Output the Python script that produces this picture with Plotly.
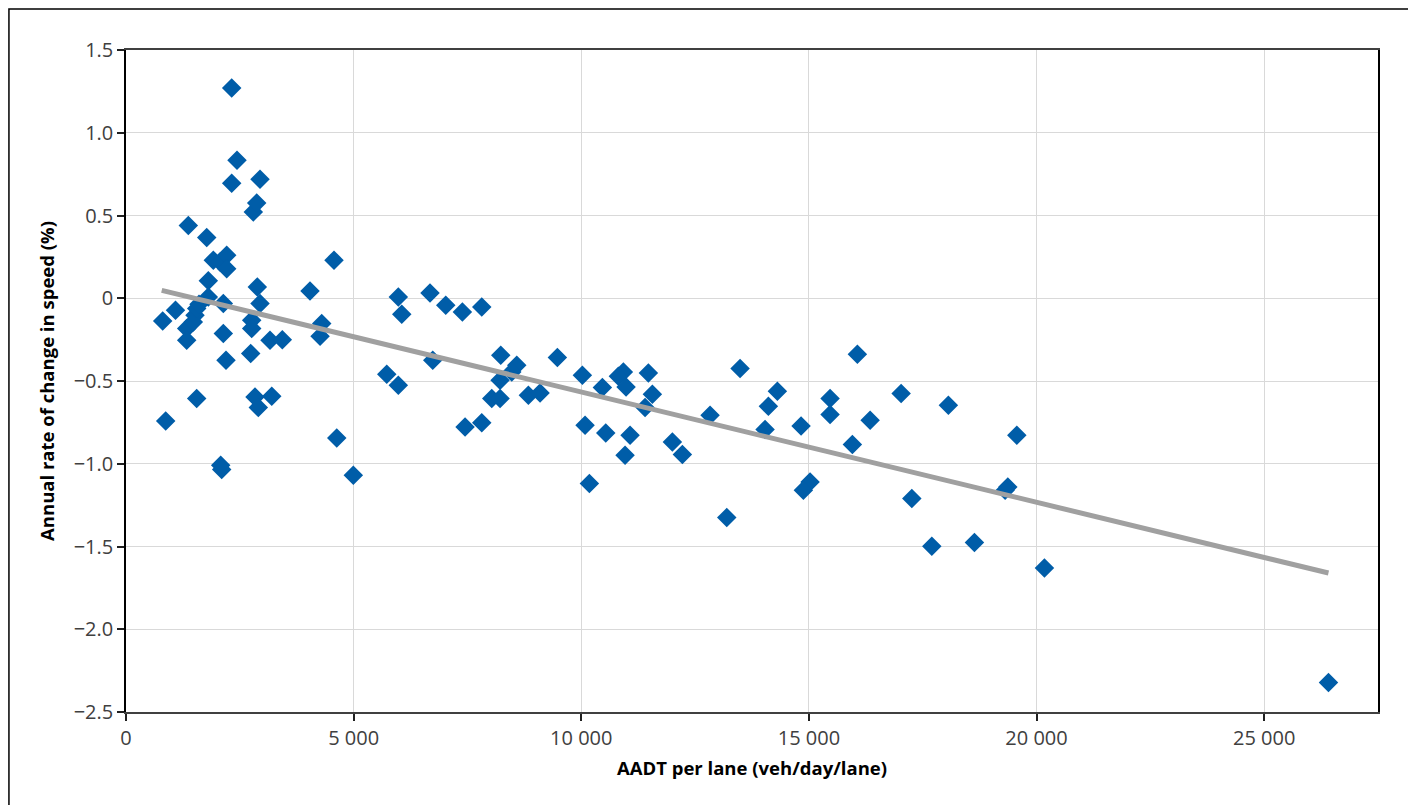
import plotly.graph_objects as go

# AADT per lane (veh/day/lane)
aadt = [806, 872, 1087, 1333, 1333, 1369, 1478, 1516, 1553, 1604, 1553, 1773, 1808, 1808,
        1918, 2065, 2212, 2212, 2137, 2137, 2197, 2080, 2102, 2322, 2322, 2438, 2797, 2871,
        2761, 2761, 2739, 2884, 2944, 2944, 2834, 2906, 3201, 3163, 3434, 4042, 4299, 4262,
        4569, 4629, 4993,
        5982, 6057, 6678, 7023, 7388, 7814, 5727, 5982, 6738, 8231, 8583, 8473, 8216, 8034,
        8216, 8838, 9095, 9475, 7447, 7814, 10024, 10463, 10925, 10815, 10984, 11474, 11562,
        11401, 10083, 10538, 11072, 10962, 12001, 12221, 10178,
        13488, 12829, 14308, 14110, 14037, 14828, 13196, 15026, 14879, 16065, 15465, 15465,
        16344, 15955, 17025, 18064, 19567, 17260, 19369, 19310, 17699, 18636, 20173, 26412]

# Annual rate of change in speed (%)
rate = [-0.137, -0.741, -0.073, -0.183, -0.254, 0.439, -0.143, -0.103, -0.062, -0.036, -0.606,
        0.367, 0.105, 0.008, 0.230, 0.219, 0.260, 0.179, -0.032, -0.213, -0.375, -1.009, -1.035,
        1.271, 0.695, 0.834, 0.521, 0.576, -0.133, -0.183, -0.334, 0.068, -0.032, 0.719,
        -0.596, -0.660, -0.592, -0.254, -0.250, 0.044, -0.153, -0.230, 0.230, -0.844, -1.070,
        0.008, -0.097, 0.032, -0.042, -0.083, -0.053, -0.459, -0.526, -0.375, -0.344, -0.405,
        -0.445, -0.495, -0.606, -0.606, -0.586, -0.572, -0.358, -0.778, -0.753, -0.465, -0.540,
        -0.445, -0.471, -0.536, -0.451, -0.580, -0.660, -0.767, -0.814, -0.828, -0.949, -0.868,
        -0.944, -1.120,
        -0.425, -0.707, -0.562, -0.653, -0.793, -0.772, -1.325, -1.110, -1.160, -0.338, -0.606,
        -0.703, -0.737, -0.884, -0.576, -0.647, -0.828, -1.210, -1.140, -1.160, -1.498, -1.476,
        -1.630, -2.322]

# Linear trend (fitted) coefficients
trend_intercept = 0.1003
trend_slope = -6.665e-5

x_ticks = [0, 5000, 10000, 15000, 20000, 25000]
y_ticks = [1.5, 1.0, 0.5, 0, -0.5, -1.0, -1.5, -2.0, -2.5]
y_tick_text = ["1.5", "1.0", "0.5", "0", "\u22120.5", "\u22121.0", "\u22121.5", "\u22122.0", "\u22122.5"]
x_tick_text = ["0", "5 000", "10 000", "15 000", "20 000", "25 000"]

x_min, x_max = 785, max(aadt)
trend_x = [x_min, x_max]
trend_y = [trend_intercept + trend_slope * v for v in trend_x]

fig = go.Figure()
fig.add_trace(go.Scatter(
    x=aadt, y=rate, mode="markers",
    marker=dict(symbol="diamond", size=15, color="#005DA8", line=dict(width=0)),
    showlegend=False, hoverinfo="x+y"))
fig.add_trace(go.Scatter(
    x=trend_x, y=trend_y, mode="lines",
    line=dict(color="#A0A0A0", width=5),
    showlegend=False, hoverinfo="skip"))

axis_font = dict(family="Open Sans, sans-serif", size=20, color="#404040")
title_font = dict(family="Open Sans, sans-serif", size=18.5, color="#000000")

fig.update_layout(
    width=1416, height=805,
    margin=dict(l=118, r=46, t=42, b=101),
    paper_bgcolor="white", plot_bgcolor="white",
    font=dict(family="Open Sans, sans-serif"),
    xaxis=dict(
        range=[0, 27500], tickvals=x_ticks, ticktext=x_tick_text,
        showgrid=True, gridcolor="#D9D9D9", gridwidth=1,
        zeroline=False, showline=True, linecolor="#404040", linewidth=2, mirror=True,
        ticks="outside", ticklen=7, tickcolor="#202020", tickwidth=1.5,
        tickfont=axis_font,
        title=dict(text="<b>AADT per lane (veh/day/lane)</b>", font=title_font, standoff=12),
    ),
    yaxis=dict(
        range=[-2.5, 1.5], tickvals=y_ticks, ticktext=y_tick_text,
        showgrid=True, gridcolor="#D9D9D9", gridwidth=1,
        zeroline=False, showline=True, linecolor="#000000", linewidth=1.5, mirror=True,
        ticks="outside", ticklen=7, tickcolor="#202020", tickwidth=1.5,
        tickfont=axis_font,
        title=dict(text="<b>Annual rate of change in speed (%)</b>", font=title_font, standoff=14),
    ),
    shapes=[dict(type="rect", xref="paper", yref="paper",
                 x0=-0.0935, x1=1.0264, y0=-0.16, y1=1.0619,
                 line=dict(color="#000000", width=1.5), fillcolor="rgba(0,0,0,0)", layer="below")],
)

fig.write_html("out.html")
